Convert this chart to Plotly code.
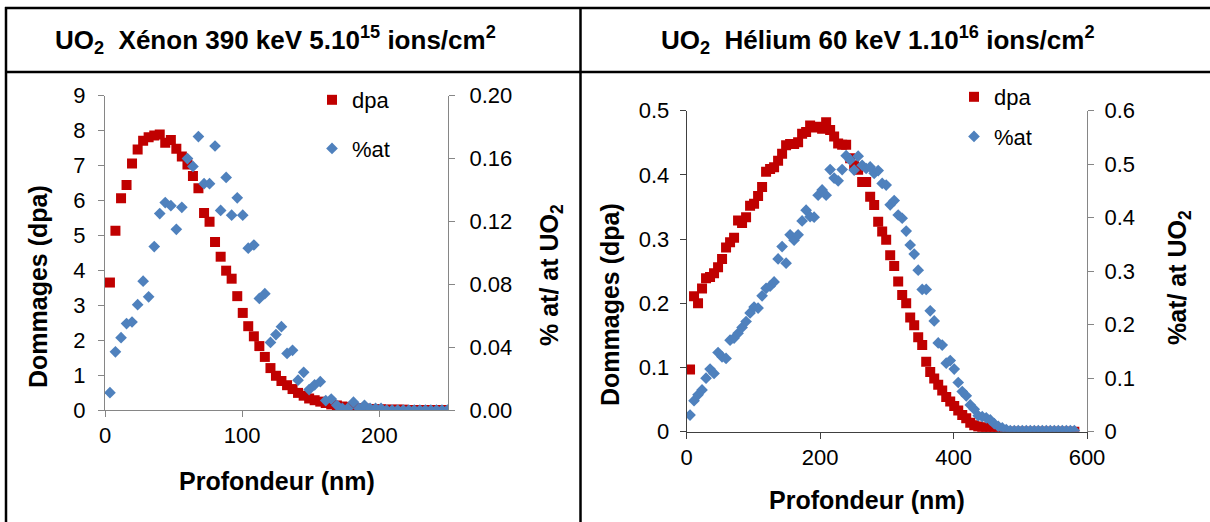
import plotly.graph_objects as go

W, H = 1210, 522

# ---------------- data : Xénon 390 keV ----------------
xe_depth = [3.6, 7.6, 11.7, 15.7, 19.7, 23.8, 27.8, 31.8, 35.9, 39.9,
            43.9, 48.0, 52.0, 56.0, 60.1, 64.1, 68.1, 72.2, 76.2, 80.2,
            84.3, 88.3, 92.3, 96.4, 100.4, 104.4, 108.5, 112.5, 116.5, 120.6,
            124.6, 128.6, 132.7, 136.7, 140.7, 144.8, 148.8, 152.8, 156.9, 160.9,
            164.9, 169.0, 173.0, 177.0, 181.1, 185.1, 189.1, 193.2, 197.2, 201.2,
            205.3, 209.3, 213.3, 217.4, 221.4, 225.4, 229.5, 233.5, 237.5, 241.6,
            245.6, 249.6]
xe_dpa = [3.65, 5.13, 6.06, 6.44, 7.06, 7.46, 7.71, 7.81, 7.86, 7.89,
          7.65, 7.73, 7.48, 7.26, 7.03, 6.70, 6.35, 5.64, 5.39, 4.81,
          4.39, 3.99, 3.76, 3.26, 2.78, 2.40, 2.11, 1.83, 1.52, 1.20,
          0.98, 0.83, 0.71, 0.60, 0.49, 0.41, 0.33, 0.28, 0.24, 0.20,
          0.16, 0.13, 0.10, 0.08, 0.06, 0.05, 0.04, 0.03, 0.02, 0.02,
          0.01, 0.01, 0.01, 0.01, 0.00, 0.00, 0.00, 0.00, 0.00, 0.00,
          0.00, 0.00]
xe_at = [0.011, 0.037, 0.046, 0.055, 0.056, 0.067, 0.082, 0.072, 0.104, 0.125,
         0.132, 0.130, 0.115, 0.129, 0.160, 0.155, 0.174, 0.144, 0.144, 0.168,
         0.127, 0.148, 0.124, 0.135, 0.124, 0.103, 0.105, 0.071, 0.074, 0.043,
         0.048, 0.053, 0.036, 0.038, 0.019, 0.024, 0.013, 0.016, 0.018, 0.006,
         0.007, 0.003, 0.001, 0.001, 0.005, 0.001, 0.003, 0.001, 0.001, 0.001,
         0.000, 0.000, 0.000, 0.000, 0.000, 0.000, 0.000, 0.000, 0.000, 0.000,
         0.000, 0.000]

# ---------------- data : Hélium 60 keV ----------------
he_depth = [5, 11, 17, 23, 29, 35, 41, 47, 53, 59,
            65, 71, 77, 83, 89, 95, 101, 107, 113, 119,
            125, 131, 137, 143, 149, 155, 161, 167, 173, 179,
            185, 191, 197, 203, 209, 215, 221, 227, 233, 239,
            245, 251, 257, 263, 269, 275, 281, 287, 293, 299,
            305, 311, 317, 323, 329, 335, 341, 347, 353, 359,
            365, 371, 377, 383, 389, 395, 401, 407, 413, 419,
            425, 431, 437, 443, 449, 455, 461, 467, 473, 479,
            485, 491, 497, 503, 509, 515, 521, 527, 533, 539,
            545, 551, 557, 563, 569, 575, 581]
he_dpa = [0.097, 0.211, 0.200, 0.223, 0.239, 0.241, 0.247, 0.256, 0.269, 0.287,
          0.295, 0.302, 0.329, 0.325, 0.334, 0.352, 0.355, 0.367, 0.381, 0.405,
          0.409, 0.412, 0.422, 0.433, 0.446, 0.448, 0.448, 0.451, 0.464, 0.467,
          0.477, 0.474, 0.475, 0.472, 0.482, 0.470, 0.460, 0.449, 0.447, 0.447,
          0.426, 0.415, 0.408, 0.389, 0.389, 0.366, 0.353, 0.327, 0.312, 0.299,
          0.275, 0.258, 0.234, 0.213, 0.200, 0.178, 0.166, 0.147, 0.135, 0.109,
          0.093, 0.083, 0.073, 0.064, 0.054, 0.047, 0.040, 0.033, 0.026, 0.021,
          0.014, 0.010, 0.008, 0.005, 0.007, 0.004, 0.002, 0.001, 0.000, 0.000,
          0.000, 0.000, 0.000, 0.000, 0.000, 0.000, 0.000, 0.000, 0.000, 0.000,
          0.000, 0.000, 0.000, 0.000, 0.000, 0.000, 0.000]
he_at = [0.031, 0.058, 0.069, 0.078, 0.100, 0.117, 0.109, 0.148, 0.140, 0.137,
         0.171, 0.175, 0.184, 0.195, 0.206, 0.222, 0.233, 0.231, 0.254, 0.268,
         0.272, 0.280, 0.323, 0.346, 0.315, 0.368, 0.358, 0.368, 0.394, 0.414,
         0.402, 0.401, 0.442, 0.452, 0.442, 0.490, 0.474, 0.469, 0.490, 0.516,
         0.508, 0.489, 0.515, 0.498, 0.492, 0.495, 0.483, 0.488, 0.464, 0.461,
         0.424, 0.432, 0.405, 0.399, 0.375, 0.349, 0.332, 0.302, 0.266, 0.266,
         0.226, 0.207, 0.166, 0.162, 0.128, 0.133, 0.117, 0.092, 0.075, 0.067,
         0.050, 0.042, 0.030, 0.028, 0.026, 0.022, 0.015, 0.010, 0.007, 0.004,
         0.002, 0.002, 0.002, 0.002, 0.002, 0.002, 0.002, 0.002, 0.002, 0.002,
         0.002, 0.002, 0.002, 0.002, 0.002, 0.002, 0.002]

titles = ["<b>UO<sub>2</sub>\u00a0 Xénon 390 keV 5.10<sup>15</sup> ions/cm<sup>2</sup></b>",
          "<b>UO<sub>2</sub>\u00a0 Hélium 60 keV 1.10<sup>16</sup> ions/cm<sup>2</sup></b>"]
series_names = ["dpa", "%at"]

RED = "#C00000"
BLUE = "#4F81BD"
GREY = "#868686"
DARK = "#404040"
FONT = "Liberation Sans, Arial, sans-serif"


def px(x):
    return x / W


def py(y):
    return 1 - y / H


fig = go.Figure()

# left chart
fig.add_trace(go.Scatter(x=xe_depth, y=xe_dpa, mode="markers", name=series_names[0],
                         xaxis="x", yaxis="y", legend="legend", legendgroup="a",
                         marker=dict(symbol="square", size=10, color=RED)))
fig.add_trace(go.Scatter(x=xe_depth, y=xe_at, mode="markers", name=series_names[1],
                         xaxis="x", yaxis="y2", legend="legend", legendgroup="b",
                         marker=dict(symbol="diamond", size=9, color=BLUE)))
# right chart
fig.add_trace(go.Scatter(x=he_depth, y=he_dpa, mode="markers", name=series_names[0],
                         xaxis="x2", yaxis="y3", legend="legend2", legendgroup="c",
                         marker=dict(symbol="square", size=10, color=RED)))
fig.add_trace(go.Scatter(x=he_depth, y=he_at, mode="markers", name=series_names[1],
                         xaxis="x2", yaxis="y4", legend="legend2", legendgroup="d",
                         marker=dict(symbol="diamond", size=9, color=BLUE)))

tickfont = dict(family=FONT, size=22, color="black")
common = dict(showgrid=False, zeroline=False, showline=True, ticks="outside",
              ticklen=6, tickfont=tickfont, automargin=False)

fig.update_layout(
    width=W, height=H, margin=dict(l=0, r=0, t=0, b=0, pad=0, autoexpand=False),
    paper_bgcolor="white", plot_bgcolor="rgba(0,0,0,0)",
    font=dict(family=FONT, color="black"),
    xaxis=dict(domain=[px(105), px(448)], range=[0, 250], dtick=100, anchor="y",
               linecolor=GREY, tickcolor=GREY, **common),
    yaxis=dict(domain=[py(410), py(95.7)], range=[0, 9], dtick=1, anchor="x",
               linecolor=GREY, tickcolor=GREY, ticklabelstandoff=8, **common),
    yaxis2=dict(domain=[py(410), py(95.7)], range=[0, 0.2], dtick=0.04, tickformat=".2f",
                overlaying="y", side="right", anchor="x", ticklabelstandoff=10,
                linecolor=GREY, tickcolor=GREY, **common),
    xaxis2=dict(domain=[px(686.7), px(1087)], range=[0, 600], dtick=200, anchor="y3",
                linecolor=DARK, tickcolor=DARK, **common),
    yaxis3=dict(domain=[py(431.7), py(110.7)], range=[0, 0.5], dtick=0.1, anchor="x2",
                linecolor=DARK, tickcolor=DARK, ticklabelstandoff=6, **common),
    yaxis4=dict(domain=[py(431.7), py(110.7)], range=[0, 0.6], dtick=0.1,
                overlaying="y3", side="right", anchor="x2", ticklabelstandoff=6,
                linecolor=GREY, tickcolor=GREY, **common),
    legend=dict(x=px(312), y=py(79), xanchor="left", yanchor="top",
                font=dict(family=FONT, size=22), tracegroupgap=17,
                bgcolor="rgba(0,0,0,0)", itemwidth=30),
    legend2=dict(x=px(954), y=py(76), xanchor="left", yanchor="top",
                 font=dict(family=FONT, size=22), tracegroupgap=8,
                 bgcolor="rgba(0,0,0,0)", itemwidth=30),
)

# table borders
line = dict(color="black", width=2.5)
shapes = [
    dict(type="line", xref="paper", yref="paper", x0=px(5), x1=1, y0=py(8), y1=py(8), line=line),
    dict(type="line", xref="paper", yref="paper", x0=px(5), x1=1, y0=py(72), y1=py(72), line=line),
    dict(type="line", xref="paper", yref="paper", x0=px(6), x1=px(6), y0=py(7), y1=0, line=line),
    dict(type="line", xref="paper", yref="paper", x0=px(580.5), x1=px(580.5), y0=py(7), y1=0, line=line),
]
fig.update_layout(shapes=shapes)

ann = []
hfont = dict(family=FONT, size=26, color="black")
ann.append(dict(text=titles[0], x=px(275), y=py(40), xref="paper", yref="paper",
                showarrow=False, font=hfont, xanchor="center", yanchor="middle"))
ann.append(dict(text=titles[1], x=px(878), y=py(40), xref="paper", yref="paper",
                showarrow=False, font=hfont, xanchor="center", yanchor="middle"))

tfont = dict(family=FONT, size=25, color="black")
axis_titles = [
    ("<b>Profondeur (nm)</b>", 277, 481, 0),
    ("<b>Profondeur (nm)</b>", 867, 500, 0),
    ("<b>Dommages (dpa)</b>", 38, 287, -90),
    ("<b>% at/ at UO<sub>2</sub></b>", 551, 275, -90),
    ("<b>Dommages (dpa)</b>", 610, 305, -90),
    ("<b>%at/ at UO<sub>2</sub></b>", 1179, 278, -90),
]
for txt, ax, ay, ang in axis_titles:
    ann.append(dict(text=txt, x=px(ax), y=py(ay), xref="paper", yref="paper",
                    showarrow=False, font=tfont, textangle=ang,
                    xanchor="center", yanchor="middle"))
fig.update_layout(annotations=ann)

# remove the browser's default 8 px page margin so the figure sits at (0, 0)
fig.write_html("out.html",
               config={"displayModeBar": False},
               post_script="document.body.style.margin='0';document.body.style.overflow='hidden';")
